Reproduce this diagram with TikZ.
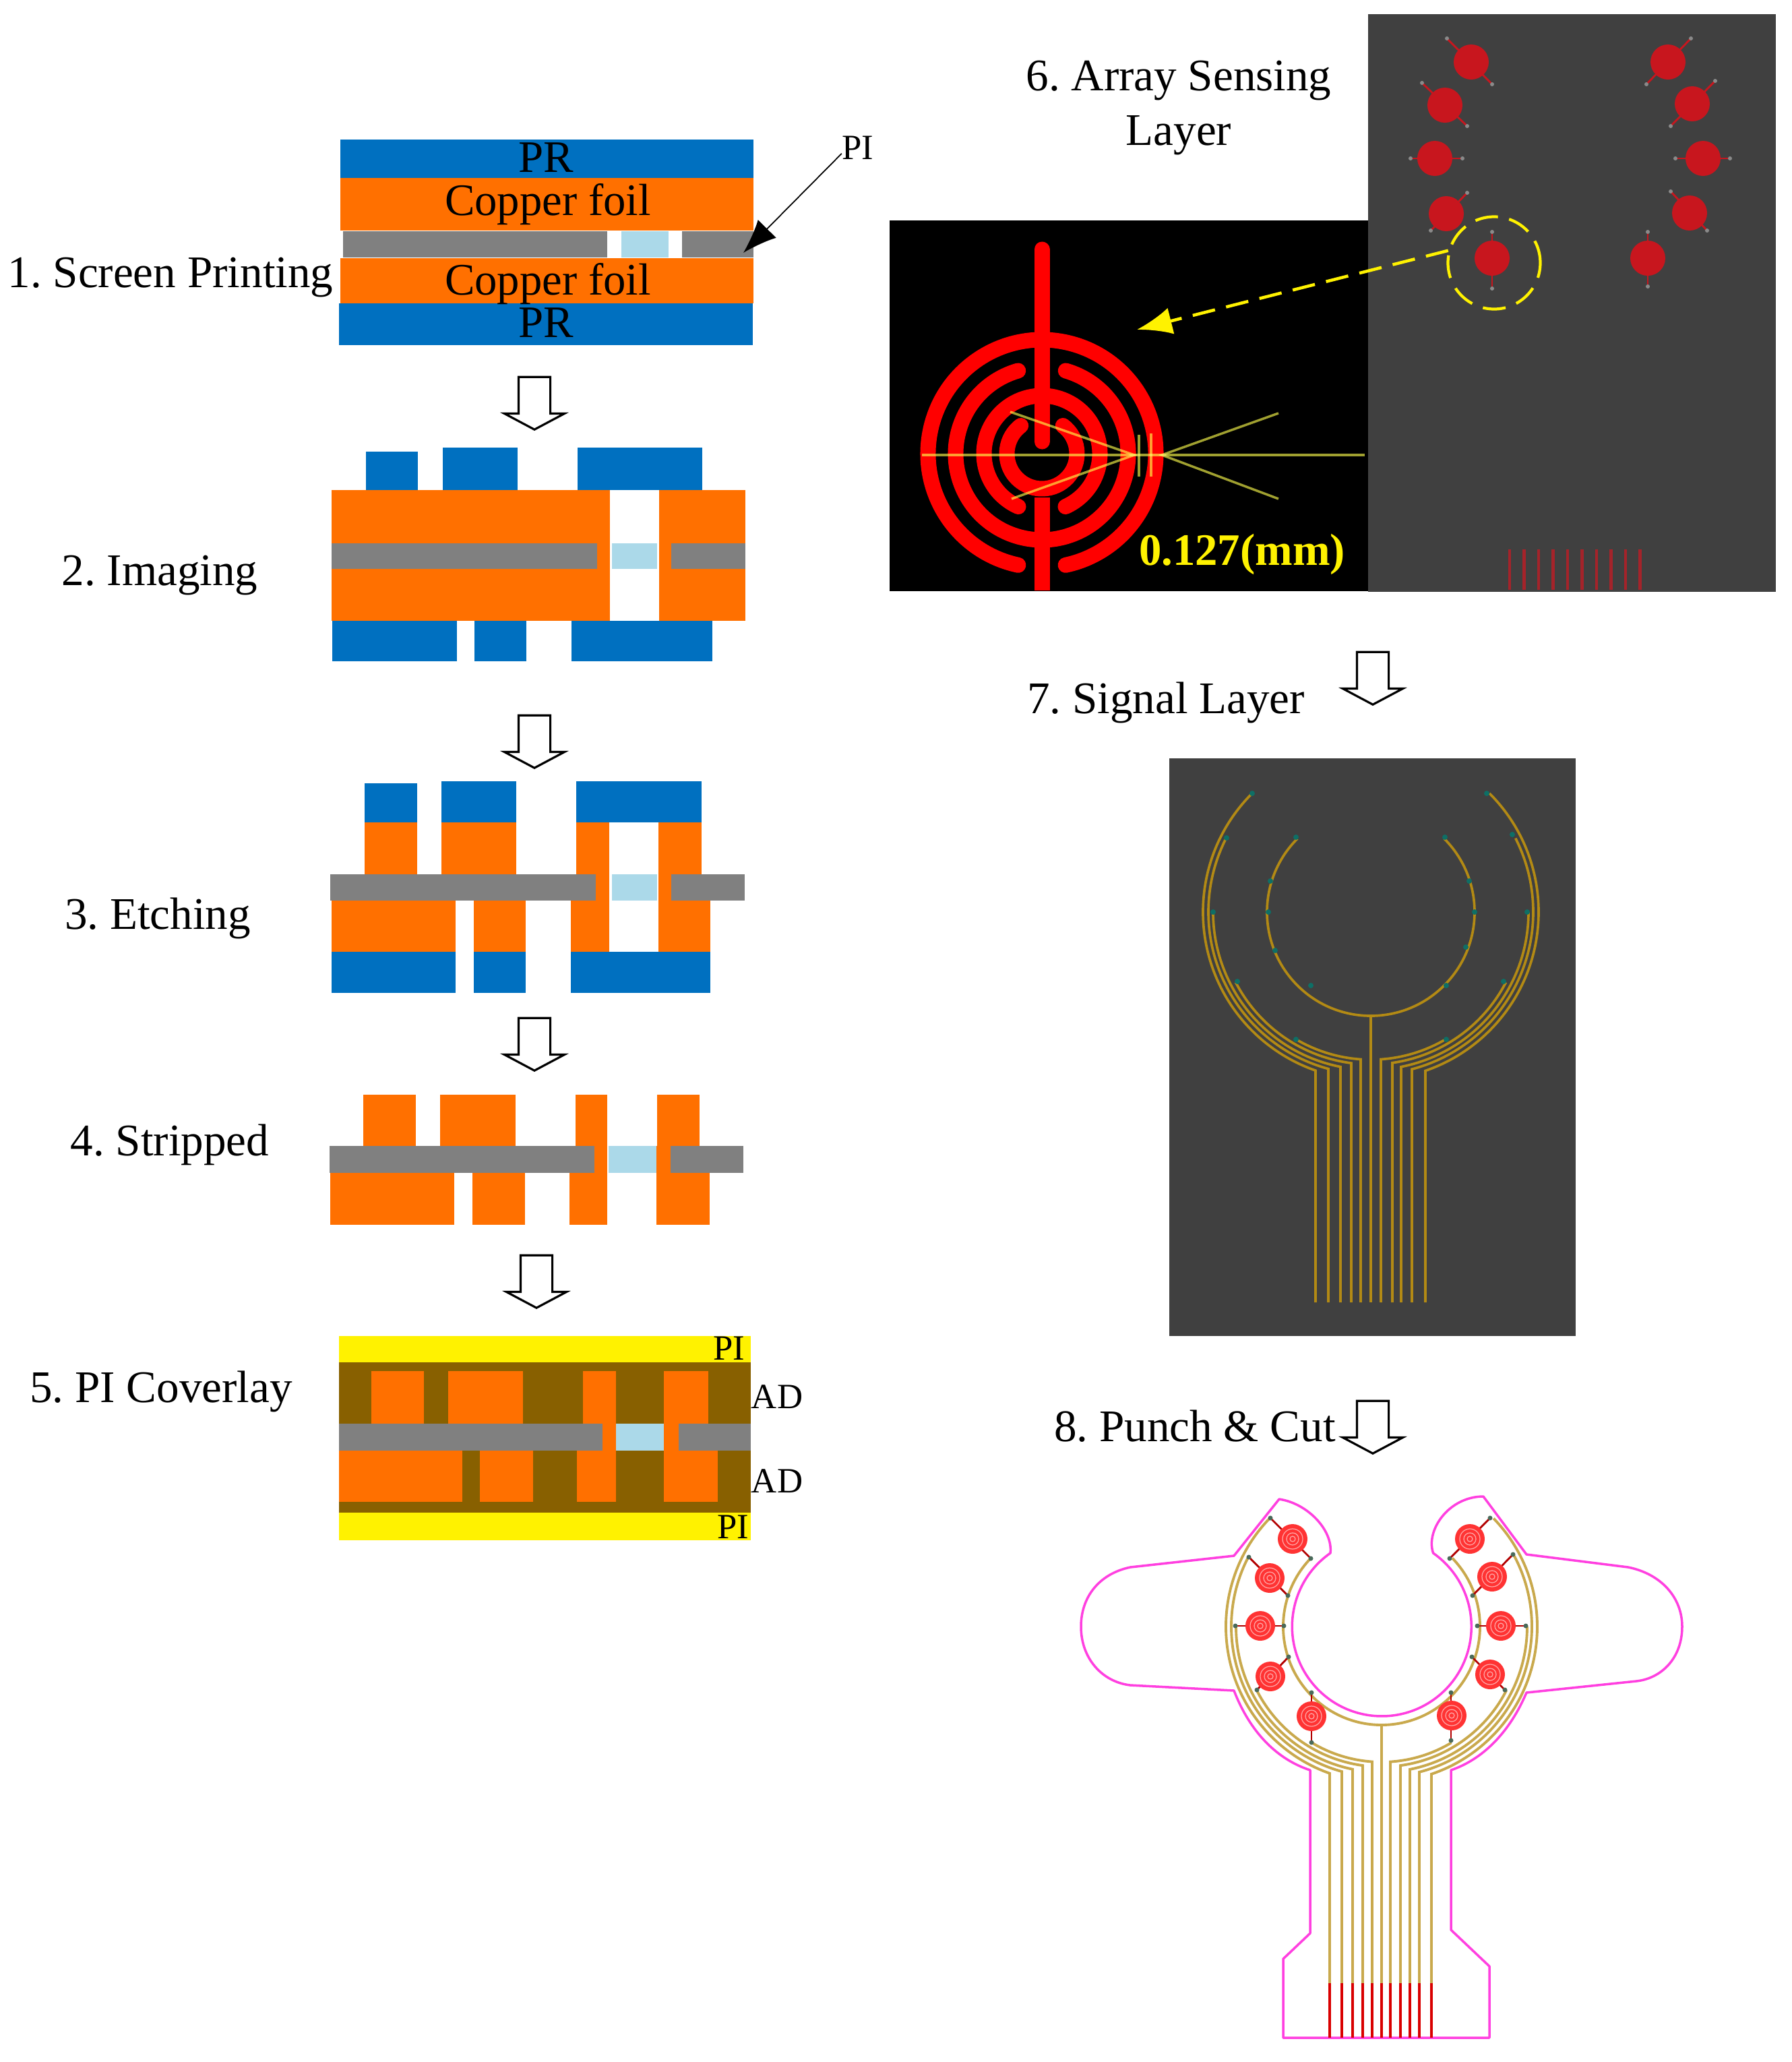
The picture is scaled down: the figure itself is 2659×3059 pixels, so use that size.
\documentclass[tikz,border=0pt]{standalone}
\usepackage{fontspec}
\setmainfont{Liberation Serif}
\usepackage{xcolor}
\usetikzlibrary{arrows.meta,shapes.arrows}
\definecolor{PRBlue}{HTML}{0070C0}
\definecolor{Copper}{HTML}{FF7000}
\definecolor{PIGray}{HTML}{808080}
\definecolor{ViaBlue}{HTML}{ABD9E9}
\definecolor{ADBrown}{HTML}{886000}
\definecolor{PanelDark}{HTML}{404040}
\definecolor{DiscRed}{HTML}{C8161E}
\definecolor{BarRed}{HTML}{A5232A}
\definecolor{ThinOlive}{HTML}{A0A030}
\definecolor{TrackGold}{HTML}{B38A14}
\definecolor{TrackTan}{HTML}{C9A94D}
\definecolor{PadTeal}{HTML}{0E6F66}
\definecolor{PadGray}{HTML}{8A8A8A}
\definecolor{PadDark}{HTML}{4A6A5A}
\definecolor{CutPink}{HTML}{FF40E0}
\tikzset{
  steplabel/.style={font=\fontsize{19.1}{21.5}\selectfont, inner sep=0pt, align=center},
  pilabel/.style={font=\fontsize{15}{17}\selectfont, inner sep=0pt},
  layerlabel/.style={font=\fontsize{19}{21}\selectfont, inner sep=0pt},
  downarrow/.style={single arrow, draw=black, fill=white, line width=0.9pt, inner sep=2.2mm, anchor=tip,
    shape border rotate=270, minimum height=7.8mm, single arrow head extend=2.1mm, single arrow tip angle=124},
  redtrace/.style={draw=red, line width=2.3mm, line cap=round},
  thinline/.style={draw=ThinOlive, line width=1pt, blend mode=screen},
  goldtrack/.style={draw=TrackGold, line width=1.05pt},
  tantrack/.style={draw=TrackTan, line width=1.1pt},
  cutline/.style={draw=CutPink, line width=1pt},
  yellowdash/.style={draw=yellow, line width=1.2pt, dash pattern=on 3.4mm off 1.7mm},
}
\frenchspacing
\begin{document}
\begin{tikzpicture}[x=0.1mm,y=-0.1mm]
\path[use as bounding box] (0,0) rectangle (2659,3059);
\fill[white] (0,0) rectangle (2659,3059);

% step 1
\fill[PRBlue] (505,207) rectangle (1118,264);
\fill[PRBlue] (503,450) rectangle (1117,512);
\fill[Copper] (505,264) rectangle (1118,342);
\fill[Copper] (505,383) rectangle (1118,450);
\fill[PIGray] (509,343) rectangle (901,382);
\fill[ViaBlue] (922,343) rectangle (992,382);
\fill[PIGray] (1012,343) rectangle (1118,382);
\node[layerlabel] (prtop) at (810,234) {PR};
\node[layerlabel] (foiltop) at (813,303) {Copper foil};
\node[layerlabel] (foilbot) at (813,421) {Copper foil};
\node[layerlabel] (prbot) at (810,479) {PR};
\node[pilabel] (pilab) at (1273,219) {PI};
\coordinate (pitip) at (1103,375);
\draw[-{Latex[length=5mm,width=3.8mm]}, line width=0.5pt] (pilab.200) -- (pitip);

% step 2
\foreach \xa/\ya/\xb in {543/670/620,657/664/768,857/664/1042}
  \fill[PRBlue] (\xa,\ya) rectangle (\xb,727);
\foreach \xa/\xb in {492/905,978/1106}
  \fill[Copper] (\xa,727) rectangle (\xb,921);
\fill[PIGray] (492,806) rectangle (886,844);
\fill[ViaBlue] (908,806) rectangle (975,844);
\fill[PIGray] (996,806) rectangle (1106,844);
\foreach \xa/\xb in {493/678,704/781,848/1057}
  \fill[PRBlue] (\xa,921) rectangle (\xb,981);

% step 3
\foreach \xa/\ya/\xb in {541/1162/619,655/1159/766,855/1159/1041}
  \fill[PRBlue] (\xa,\ya) rectangle (\xb,1220);
\foreach \xa/\xb in {541/619,655/766,855/904,977/1041}
  \fill[Copper] (\xa,1220) rectangle (\xb,1297);
\foreach \xa/\xb in {492/676,703/780,847/904,977/1054}
  \fill[Copper] (\xa,1336) rectangle (\xb,1412);
\fill[Copper] (855,1297) rectangle (904,1336);
\fill[Copper] (977,1297) rectangle (996,1336);
\fill[PIGray] (490,1297) rectangle (884,1336);
\fill[ViaBlue] (908,1297) rectangle (975,1336);
\fill[PIGray] (996,1297) rectangle (1105,1336);
\foreach \xa/\xb in {492/676,703/780,847/1054}
  \fill[PRBlue] (\xa,1412) rectangle (\xb,1473);

% step 4
\foreach \xa/\xb in {539/617,653/765,854/901,975/1038}
  \fill[Copper] (\xa,1624) rectangle (\xb,1700);
\foreach \xa/\xb in {490/674,701/779,845/901,974/1053}
  \fill[Copper] (\xa,1740) rectangle (\xb,1817);
\fill[Copper] (854,1700) rectangle (901,1740);
\fill[Copper] (974,1700) rectangle (995,1740);
\fill[PIGray] (489,1700) rectangle (882,1740);
\fill[ViaBlue] (903,1700) rectangle (974,1740);
\fill[PIGray] (995,1700) rectangle (1103,1740);

% step 5
\fill[yellow] (503,1982) rectangle (1114,2285);
\fill[ADBrown] (503,2021) rectangle (1114,2244);
\foreach \xa/\xb in {551/629,665/776,865/914,985/1051}
  \fill[Copper] (\xa,2034) rectangle (\xb,2112);
\foreach \xa/\xb in {503/686,712/791,856/914,985/1065}
  \fill[Copper] (\xa,2152) rectangle (\xb,2228);
\fill[Copper] (865,2112) rectangle (914,2152);
\fill[Copper] (985,2112) rectangle (1007,2152);
\fill[PIGray] (503,2112) rectangle (894,2152);
\fill[ViaBlue] (914,2112) rectangle (985,2152);
\fill[PIGray] (1007,2112) rectangle (1114,2152);
\node[pilabel] (pia) at (1082,2000) {PI};
\node[pilabel] (ada) at (1153,2072) {AD};
\node[pilabel] (adb) at (1153,2197) {AD};
\node[pilabel] (pib) at (1088,2265) {PI};

% process arrows
\foreach \nm/\cx/\ty in {a/793/639,b/793/1141,c/793/1590,d/796/1942,e/2037/1047,f/2037/2158}
  \node[downarrow] (arrow\nm) at (\cx,\ty) {};

% step labels
\node[steplabel] (stepa) at (253,412) {1. Screen Printing};
\node[steplabel] (stepb) at (237,854) {2. Imaging};
\node[steplabel] (stepc) at (234,1362) {3. Etching};
\node[steplabel] (stepd) at (252,1698) {4. Stripped};
\node[steplabel] (stepe) at (239,2064) {5. PI Coverlay};
\node[steplabel] (stepf) at (1749,160) {6. Array Sensing\\[1.5pt]Layer};
\node[steplabel] (stepg) at (1730,1042) {7. Signal Layer};
\node[steplabel] (steph) at (1773,2116) {8. Punch \& Cut};

% array sensing panel
\fill[PanelDark] (2030,21) rectangle (2635,878);
\foreach \cx/\cy/\ax/\ay/\bx/\by in {2183/92/2147/57/2214/125,2144/156/2110/123/2177/187,2129/235/2093/235/2170/235,2146/317/2177/286/2123/342,2214/383/2214/344/2214/428,2475/92/2509/57/2443/125,2511/154/2545/120/2479/187,2527/235/2486/235/2567/235,2507/316/2479/284/2533/342,2445/383/2445/344/2445/425}{
  \draw[DiscRed,line width=0.8pt] (\ax,\ay) -- (\bx,\by);
  \fill[DiscRed] (\cx,\cy) circle (26);
  \fill[PadGray] (\ax,\ay) circle (3) (\bx,\by) circle (3);
}
\foreach \i in {0,...,9}
  \draw[BarRed,line width=1.4pt] ({2240+21.5*\i},815) -- ({2240+21.5*\i},875);

% sensor detail
\fill[black] (1320,327) rectangle (2030,877);
\draw[redtrace] (1546,673) ++(102:169) arc[start angle=102,end angle=438,radius=169];
\draw[redtrace] (1546,673) ++(-74:128) arc[start angle=-74,end angle=254,radius=128];
\draw[redtrace] (1546,673) ++(114:86) arc[start angle=114,end angle=426,radius=86];
\draw[redtrace] (1546,673) ++(-53:52) arc[start angle=-53,end angle=233,radius=52];
\draw[redtrace] (1546,370) -- (1546,655);
\draw[redtrace,line cap=butt] (1546,738) -- (1546,876);
\draw[thinline] (1368,675) -- (2025,675);
\draw[thinline] (1499,611) -- (1683,675) -- (1501,740);
\draw[thinline] (1897,613) -- (1724,675) -- (1897,740);
\draw[thinline] (1690,645) -- (1690,707);
\draw[thinline] (1708,643) -- (1708,707);
\node[font=\fontsize{19}{21}\selectfont\bfseries, text=yellow, inner sep=0pt] (width) at (1843,822) {0.127(mm)};
\node[circle, yellowdash, minimum size=13.7mm, inner sep=0pt] (zoomring) at (2217,390) {};
\coordinate (zoomtip) at (1687,489);
\draw[yellowdash, line width=1.3pt, -{Latex[length=5.2mm,width=4mm,sep=0pt]}] (zoomring.165) -- (zoomtip);

% signal layer panel
\fill[PanelDark] (1735,1125) rectangle (2338,1982);
\draw[goldtrack] (2034,1353) ++(225:154) arc[start angle=225,end angle=-45,radius=154];
\draw[goldtrack] (2034,1507) -- (2034,1932);
\foreach \r/\dx/\ang in {249/82/225,241/63/207,234/45/180,226/29/152.5,219/15/120}{
  \pgfmathsetmacro\endang{90+asin(\dx/\r)}
  \draw[goldtrack] (2034,1353) ++(\ang:\r) arc[start angle=\ang,end angle=\endang,radius=\r] -- ({2034-\dx},1932);
}
\foreach \r/\dx/\ang in {249/81/-45,241/61/-27,234/45/0,226/32/27.5,219/15/60}{
  \pgfmathsetmacro\endang{90-asin(\dx/\r)}
  \draw[goldtrack] (2034,1353) ++(\ang:\r) arc[start angle=\ang,end angle=\endang,radius=\r] -- ({2034+\dx},1932);
}
\foreach \ax/\ay in {1858/1177,1820/1243,1800/1353,1836/1456,1923/1542,1923/1242,1885/1307,1882/1353,1892/1410,1945/1462,2206/1177,2244/1238,2266/1353,2231/1456,2146/1542,2144/1242,2180/1307,2188/1353,2175/1405,2146/1462}
  \fill[PadTeal] (\ax,\ay) circle (4);

% punch and cut outline
\draw[cutline, line join=round] (1904,3023) -- (1904,2906) -- (1944,2868) -- (1944,2626)
  .. controls (1895,2610) and (1855,2570) .. (1831,2508) -- (1677,2500)
  .. controls (1635,2495) and (1604,2460) .. (1604,2413)
  .. controls (1604,2370) and (1630,2335) .. (1677,2325) -- (1831,2308) -- (1898,2224)
  .. controls (1940,2230) and (1978,2270) .. (1974,2304)
  arc[start angle=235,end angle=-55,radius=133]
  .. controls (2115,2270) and (2150,2220) .. (2201,2220) -- (2265,2306) -- (2416,2325)
  .. controls (2465,2335) and (2496,2370) .. (2496,2413)
  .. controls (2496,2460) and (2465,2490) .. (2428,2494) -- (2265,2511)
  .. controls (2240,2570) and (2200,2610) .. (2153,2626) -- (2153,2863) -- (2210,2917) -- (2210,3023) -- cycle;

% punch and cut traces
\draw[tantrack] (2050,2413) ++(224:146) arc[start angle=224,end angle=-44,radius=146];
\draw[tantrack] (2050,2559) -- (2050,2942);
\foreach \r/\dx/\ang in {231/77/224,223/59/208,216/43/180,208/28/153,201/14/121}{
  \pgfmathsetmacro\endang{90+asin(\dx/\r)}
  \draw[tantrack] (2050,2413) ++(\ang:\r) arc[start angle=\ang,end angle=\endang,radius=\r] -- ({2050-\dx},2942);
}
\foreach \r/\dx/\ang in {231/74/-44,223/56/-28,216/42/0,208/28/27,201/13/59}{
  \pgfmathsetmacro\endang{90-asin(\dx/\r)}
  \draw[tantrack] (2050,2413) ++(\ang:\r) arc[start angle=\ang,end angle=\endang,radius=\r] -- ({2050+\dx},2942);
}
\foreach \vx in {1973,1991,2007,2022,2036,2050,2063,2078,2092,2106,2124}
  \draw[red!85!black,line width=1pt] (\vx,2942) -- (\vx,3023);
\foreach \cx/\cy/\ax/\ay/\bx/\by in {1918/2283/1885/2252/1945/2312,1884/2341/1853/2310/1911/2367,1870/2412/1833/2412/1905/2412,1885/2487/1912/2458/1865/2507,1946/2546/1946/2511/1946/2585,2181/2283/2211/2252/2151/2312,2214/2339/2245/2306/2185/2367,2227/2412/2192/2412/2264/2412,2211/2484/2184/2458/2233/2507,2154/2545/2153/2511/2153/2582}{
  \draw[red!70!black,line width=0.8pt] (\ax,\ay) -- (\bx,\by);
  \fill[red!80!white] (\cx,\cy) circle (22);
  \draw[white!65!red,line width=0.35pt] (\cx,\cy) circle (15) (\cx,\cy) circle (9) (\cx,\cy) circle (4);
  \fill[PadDark] (\ax,\ay) circle (3.5) (\bx,\by) circle (3.5);
}
\end{tikzpicture}
\end{document}
